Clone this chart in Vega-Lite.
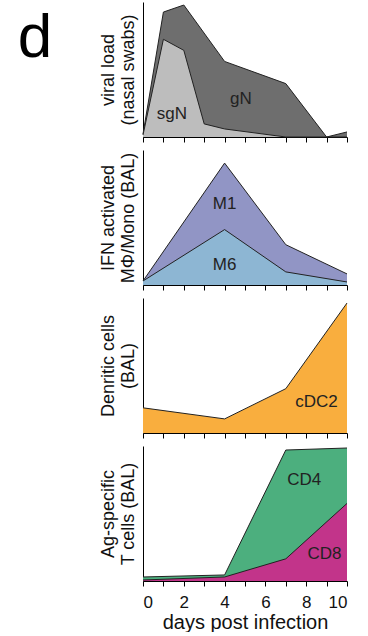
{
  "$schema": "https://vega.github.io/schema/vega-lite/v6.json",
  "padding": {"left": 0, "top": 2, "right": 5, "bottom": 0},
  "config": {
    "view": {"stroke": null},
    "font": "Liberation Sans",
    "axis": {"domainColor": "#000", "tickColor": "#000", "labelColor": "#111", "titleColor": "#111", "grid": false, "titleFontWeight": "normal", "domainWidth": 1, "tickWidth": 1}
  },
  "datasets": {
    "viral": [
      {"series": "gN", "day": 0, "v": 3}, {"series": "gN", "day": 1, "v": 124}, {"series": "gN", "day": 2, "v": 131},
      {"series": "gN", "day": 4, "v": 75}, {"series": "gN", "day": 7, "v": 53}, {"series": "gN", "day": 9, "v": 0}, {"series": "gN", "day": 10, "v": 5},
      {"series": "sgN", "day": 0, "v": 2}, {"series": "sgN", "day": 1, "v": 97}, {"series": "sgN", "day": 2, "v": 86},
      {"series": "sgN", "day": 3, "v": 13}, {"series": "sgN", "day": 4, "v": 8}, {"series": "sgN", "day": 7, "v": 0}, {"series": "sgN", "day": 9, "v": 0}, {"series": "sgN", "day": 10, "v": 0}
    ],
    "viralLabels": [{"label": "sgN", "day": 1.42, "v": 23}, {"label": "gN", "day": 4.8, "v": 38}],
    "mono": [
      {"series": "M1", "day": 0, "v": 4}, {"series": "M1", "day": 4, "v": 121}, {"series": "M1", "day": 7, "v": 40}, {"series": "M1", "day": 10, "v": 11},
      {"series": "M6", "day": 0, "v": 4}, {"series": "M6", "day": 4, "v": 55}, {"series": "M6", "day": 7, "v": 13}, {"series": "M6", "day": 10, "v": 3}
    ],
    "monoLabels": [{"label": "M1", "day": 4.0, "v": 80}, {"label": "M6", "day": 4.0, "v": 20}],
    "dc": [
      {"series": "cDC2", "day": 0, "v": 25}, {"series": "cDC2", "day": 4, "v": 14}, {"series": "cDC2", "day": 7, "v": 44}, {"series": "cDC2", "day": 10, "v": 129}
    ],
    "dcLabels": [{"label": "cDC2", "day": 8.5, "v": 31}],
    "tcell": [
      {"series": "CD4", "day": 0, "v": 4}, {"series": "CD4", "day": 4, "v": 6}, {"series": "CD4", "day": 7, "v": 130}, {"series": "CD4", "day": 10, "v": 132},
      {"series": "CD8", "day": 0, "v": 1}, {"series": "CD8", "day": 4, "v": 4}, {"series": "CD8", "day": 7, "v": 22}, {"series": "CD8", "day": 10, "v": 77}
    ],
    "tcellLabels": [{"label": "CD4", "day": 7.9, "v": 100}, {"label": "CD8", "day": 8.9, "v": 27}]
  },
  "hconcat": [
    {
      "width": 70, "height": 110,
      "data": {"values": [{"panel": "d"}]},
      "mark": {"type": "text", "fontSize": 62, "font": "Liberation Sans", "align": "center", "baseline": "alphabetic", "color": "#000"},
      "encoding": {"text": {"field": "panel"}}
    },
    {
      "spacing": 7,
      "vconcat": [
        {
          "width": 204, "height": 135,
          "encoding": {
            "x": {"field": "day", "type": "quantitative", "scale": {"domain": [0, 10], "nice": false}, "axis": {"title": null, "labels": false, "values": [0,1,2,3,4,5,6,7,8,9,10], "tickSize": 5}},
            "y": {"field": "v", "type": "quantitative", "stack": null, "scale": {"domain": [0, 134], "nice": false}, "axis": {"title": ["viral load", "(nasal swabs)"], "labels": false, "ticks": false, "titleFontSize": 18, "titleLineHeight": 20, "titlePadding": 6}}
          },
          "layer": [
            {"data": {"name": "viral"}, "transform": [{"filter": "datum.series === 'gN'"}], "mark": {"type": "area", "color": "#6e6e6e", "opacity": 1, "line": {"color": "#222", "strokeWidth": 1}}},
            {"data": {"name": "viral"}, "transform": [{"filter": "datum.series === 'sgN'"}], "mark": {"type": "area", "color": "#bdbdbd", "opacity": 1, "line": {"color": "#222", "strokeWidth": 1}}},
            {"data": {"name": "viralLabels"}, "mark": {"type": "text", "fontSize": 17, "color": "#222", "align": "center", "baseline": "middle"}, "encoding": {"text": {"field": "label"}}}
          ]
        },
        {
          "width": 204, "height": 135,
          "encoding": {
            "x": {"field": "day", "type": "quantitative", "scale": {"domain": [0, 10], "nice": false}, "axis": {"title": null, "labels": false, "values": [0,1,2,3,4,5,6,7,8,9,10], "tickSize": 5}},
            "y": {"field": "v", "type": "quantitative", "stack": null, "scale": {"domain": [0, 134], "nice": false}, "axis": {"title": ["IFN activated", "MΦ/Mono (BAL)"], "labels": false, "ticks": false, "titleFontSize": 18, "titleLineHeight": 20, "titlePadding": 6}}
          },
          "layer": [
            {"data": {"name": "mono"}, "transform": [{"filter": "datum.series === 'M1'"}], "mark": {"type": "area", "color": "#9195c5", "opacity": 1, "line": {"color": "#222", "strokeWidth": 1}}},
            {"data": {"name": "mono"}, "transform": [{"filter": "datum.series === 'M6'"}], "mark": {"type": "area", "color": "#8db6d3", "opacity": 1, "line": {"color": "#222", "strokeWidth": 1}}},
            {"data": {"name": "monoLabels"}, "mark": {"type": "text", "fontSize": 17, "color": "#222", "align": "center", "baseline": "middle"}, "encoding": {"text": {"field": "label"}}}
          ]
        },
        {
          "width": 204, "height": 135,
          "encoding": {
            "x": {"field": "day", "type": "quantitative", "scale": {"domain": [0, 10], "nice": false}, "axis": {"title": null, "labels": false, "values": [0,1,2,3,4,5,6,7,8,9,10], "tickSize": 5}},
            "y": {"field": "v", "type": "quantitative", "stack": null, "scale": {"domain": [0, 134], "nice": false}, "axis": {"title": ["Denritic cells", "(BAL)"], "labels": false, "ticks": false, "titleFontSize": 18, "titleLineHeight": 20, "titlePadding": 6}}
          },
          "layer": [
            {"data": {"name": "dc"}, "mark": {"type": "area", "color": "#f9ae3e", "opacity": 1, "line": {"color": "#222", "strokeWidth": 1}}},
            {"data": {"name": "dcLabels"}, "mark": {"type": "text", "fontSize": 17, "color": "#222", "align": "center", "baseline": "middle"}, "encoding": {"text": {"field": "label"}}}
          ]
        },
        {
          "width": 204, "height": 135,
          "encoding": {
            "x": {"field": "day", "type": "quantitative", "scale": {"domain": [0, 10], "nice": false}, "axis": {"title": "days post infection", "titleFontSize": 20, "titlePadding": 2, "labelFontSize": 17, "labelPadding": 8, "values": [0,1,2,3,4,5,6,7,8,9,10], "labelExpr": "datum.value % 2 === 0 ? datum.label : ''", "labelOverlap": false, "tickSize": 5}},
            "y": {"field": "v", "type": "quantitative", "stack": null, "scale": {"domain": [0, 134], "nice": false}, "axis": {"title": ["Ag-specific", "T cells (BAL)"], "labels": false, "ticks": false, "titleFontSize": 18, "titleLineHeight": 20, "titlePadding": 6}}
          },
          "layer": [
            {"data": {"name": "tcell"}, "transform": [{"filter": "datum.series === 'CD4'"}], "mark": {"type": "area", "color": "#4caf7e", "opacity": 1, "line": {"color": "#222", "strokeWidth": 1}}},
            {"data": {"name": "tcell"}, "transform": [{"filter": "datum.series === 'CD8'"}], "mark": {"type": "area", "color": "#c2348a", "opacity": 1, "line": {"color": "#222", "strokeWidth": 1}}},
            {"data": {"name": "tcellLabels"}, "mark": {"type": "text", "fontSize": 17, "color": "#222", "align": "center", "baseline": "middle"}, "encoding": {"text": {"field": "label"}}}
          ]
        }
      ]
    }
  ],
  "spacing": 28
}
